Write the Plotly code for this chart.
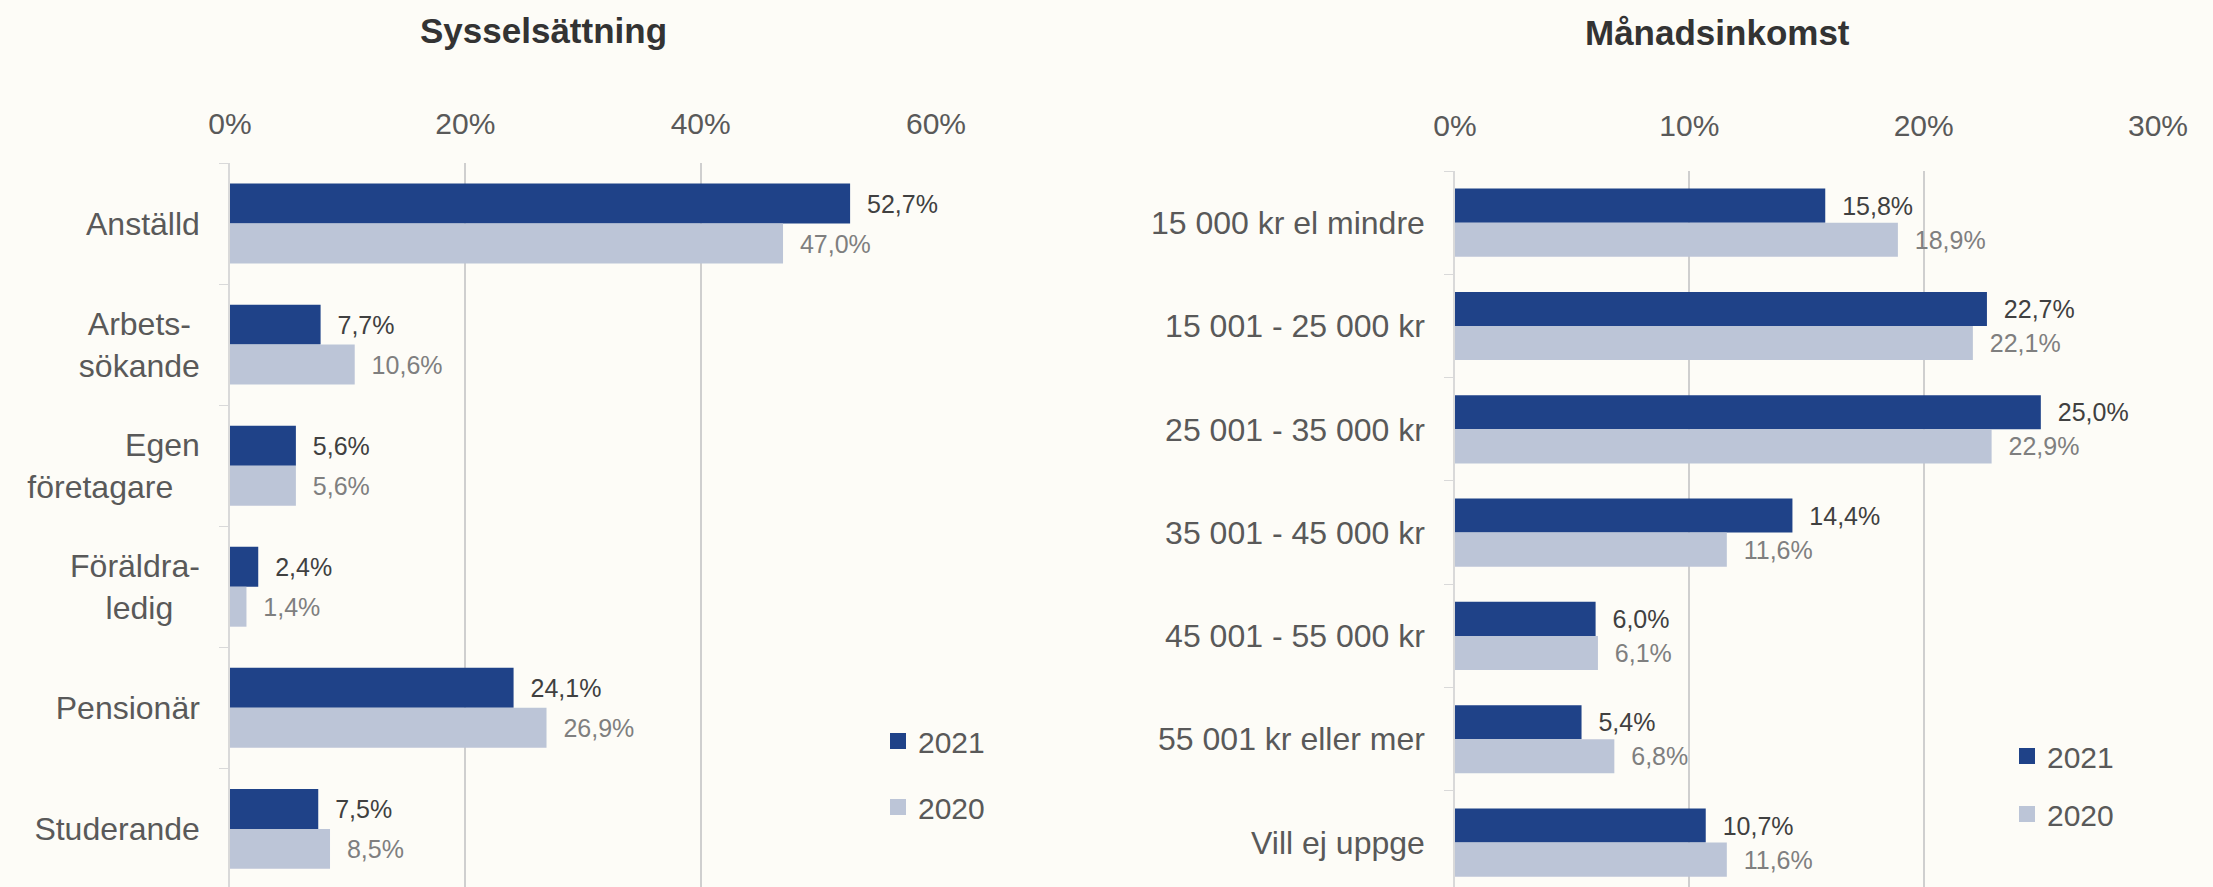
import plotly.graph_objects as go

# ---- data ----
left_title = "Sysselsättning"
left_cats = ["Anställd", "Arbets-<br>sökande", "Egen<br>företagare", "Föräldra-<br>ledig", "Pensionär", "Studerande"]
left_2021 = [52.7, 7.7, 5.6, 2.4, 24.1, 7.5]
left_2020 = [47.0, 10.6, 5.6, 1.4, 26.9, 8.5]

right_title = "Månadsinkomst"
right_cats = ["15 000 kr el mindre", "15 001 - 25 000 kr", "25 001 - 35 000 kr", "35 001 - 45 000 kr",
              "45 001 - 55 000 kr", "55 001 kr eller mer", "Vill ej uppge"]
right_2021 = [15.8, 22.7, 25.0, 14.4, 6.0, 5.4, 10.7]
right_2020 = [18.9, 22.1, 22.9, 11.6, 6.1, 6.8, 11.6]

series_names = ["2021", "2020"]
left_ticks = [0, 20, 40, 60]
right_ticks = [0, 10, 20, 30]

# ---- style ----
W, H = 2213, 887
BG = "#FDFCF7"
C21 = "#1F4288"
C20 = "#BCC5D7"
FONT = "Liberation Sans"
TXT = "#595959"
NB = "\u00a0"


def lab(v):
    return NB + NB + f"{v:.1f}%".replace(".", ",")


def center_lines(cat, pads):
    # pad the shorter line so right-aligned multi-line labels look centred
    parts = cat.split("<br>")
    if len(parts) == 1:
        return cat
    return "<br>".join(p + NB * n for p, n in zip(parts, pads))


left_pads = {"Arbets-<br>sökande": (1, 0), "Egen<br>företagare": (0, 3), "Föräldra-<br>ledig": (0, 3)}
left_ticktext = [center_lines(c, left_pads.get(c, (0, 0))) for c in left_cats]

fig = go.Figure()

for cats, vals21, vals20, xa, ya in [
    (left_cats, left_2021, left_2020, "x", "y"),
    (right_cats, right_2021, right_2020, "x2", "y2"),
]:
    fig.add_trace(go.Bar(
        y=cats, x=vals21, orientation="h", name=series_names[0], showlegend=False,
        marker=dict(color=C21, line=dict(width=0)),
        text=[lab(v) for v in vals21], textposition="outside",
        textfont=dict(family=FONT, size=25, color="#404040"),
        cliponaxis=False, xaxis=xa, yaxis=ya,
    ))
    fig.add_trace(go.Bar(
        y=cats, x=vals20, orientation="h", name=series_names[1], showlegend=False,
        marker=dict(color=C20, line=dict(width=0)),
        text=[lab(v) for v in vals20], textposition="outside",
        textfont=dict(family=FONT, size=25, color="#7F7F7F"),
        cliponaxis=False, xaxis=xa, yaxis=ya,
    ))

# legend entries (square keys like the reference)
for leg in ["legend", "legend2"]:
    for name, col, grp in [(series_names[0], C21, "a"), (series_names[1], C20, "b")]:
        fig.add_trace(go.Scatter(
            x=[None], y=[None], mode="markers", name=name,
            marker=dict(symbol="square", size=17, color=col),
            legend=leg, legendgroup=grp + leg, showlegend=True,
            xaxis="x" if leg == "legend" else "x2", yaxis="y" if leg == "legend" else "y2",
        ))

xcommon = dict(side="top", showgrid=True, gridcolor="#CFCFCF", gridwidth=1.5, automargin=False,
               zeroline=False, showline=False, ticks="",
               tickfont=dict(family=FONT, size=30, color=TXT))
ycommon = dict(type="category", showgrid=False, showline=True, linecolor="#D9D9D9", linewidth=1.5,
               ticks="outside", tickson="boundaries", ticklen=9, tickcolor="#D9D9D9", automargin=False,
               ticklabelstandoff=22, tickfont=dict(family=FONT, size=32, color=TXT))

fig.update_layout(
    width=W, height=H,
    paper_bgcolor=BG, plot_bgcolor=BG,
    margin=dict(l=0, r=0, t=0, b=0, autoexpand=False),
    barmode="group",
    showlegend=True,
    xaxis=dict(domain=[230 / W, 936 / W], range=[0, 60], tickvals=left_ticks, ticklabelstandoff=22,
               ticktext=[f"{t}%" for t in left_ticks], anchor="y", **xcommon),
    yaxis=dict(domain=[0, 1 - 163 / H], range=[5.48, -0.5], anchor="x",
               tickvals=left_cats, ticktext=left_ticktext, **ycommon),
    xaxis2=dict(domain=[1455 / W, 2158 / W], range=[0, 30], tickvals=right_ticks, ticklabelstandoff=28,
                ticktext=[f"{t}%" for t in right_ticks], anchor="y2", **xcommon),
    yaxis2=dict(domain=[0, 1 - 171 / H], range=[6.43, -0.5], anchor="x2", **ycommon),
    bargap=0.34,
    legend=dict(x=878 / W, y=1 - 715 / H, xanchor="left", yanchor="top",
                bgcolor="rgba(0,0,0,0)", tracegroupgap=24,
                font=dict(family=FONT, size=30, color=TXT)),
    legend2=dict(x=2007 / W, y=1 - 730 / H, xanchor="left", yanchor="top",
                 bgcolor="rgba(0,0,0,0)", tracegroupgap=16,
                 font=dict(family=FONT, size=30, color=TXT)),
    annotations=[
        dict(text=f"<b>{left_title}</b>", x=543 / W, y=1 - 30 / H, xref="paper", yref="paper",
             showarrow=False, xanchor="center", yanchor="middle",
             font=dict(family=FONT, size=35, color="#333333")),
        dict(text=f"<b>{right_title}</b>", x=1717 / W, y=1 - 32 / H, xref="paper", yref="paper",
             showarrow=False, xanchor="center", yanchor="middle",
             font=dict(family=FONT, size=35, color="#333333")),
    ],
)

fig.write_html(
    "out.html",
    config={"displayModeBar": False},
    post_script="document.body.style.margin='0';document.body.style.overflow='hidden';"
                "document.body.style.background='" + BG + "';",
)
